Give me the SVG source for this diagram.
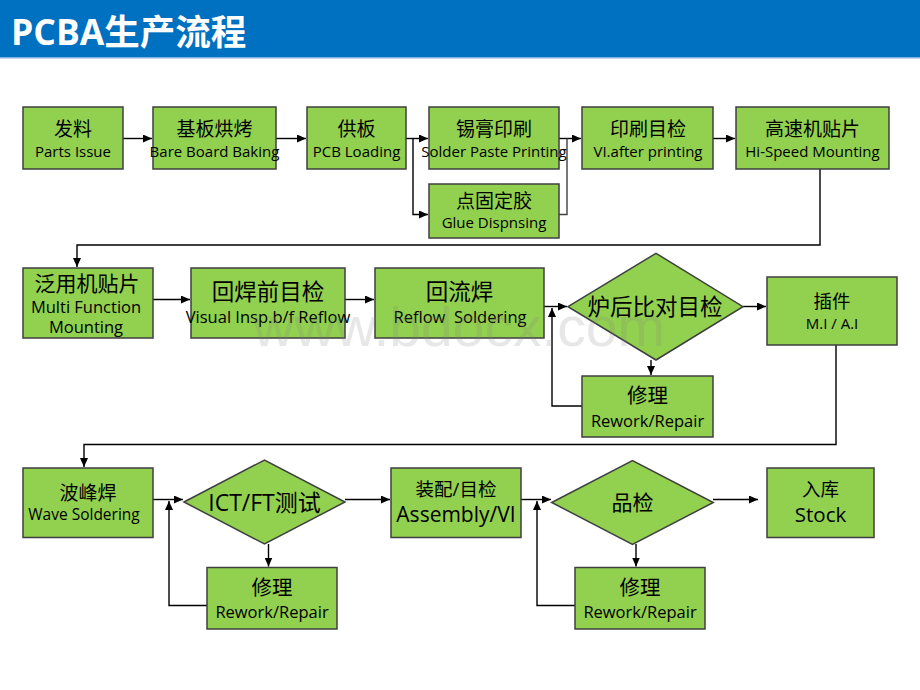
<svg xmlns="http://www.w3.org/2000/svg" width="920" height="690" viewBox="0 0 920 690">
<defs>
<marker id="arr" markerUnits="userSpaceOnUse" markerWidth="10" markerHeight="8" refX="9" refY="4" orient="auto">
<path d="M0,0 L9,4 L0,8 z" fill="#000"/>
</marker>
<style>
.box{fill:#92D050;stroke:#3F3F3F;stroke-width:1.5}
.zh{font-family:"Open Sans","Noto Sans CJK SC",sans-serif;fill:#000;text-anchor:middle}
.en{font-family:"Open Sans","Noto Sans CJK SC",sans-serif;fill:#000;text-anchor:middle}
.ln{fill:none;stroke:#404040;stroke-width:1.4}
.ar{fill:none;stroke:#000;stroke-width:1.4;marker-end:url(#arr)}
</style>
</defs>
<rect x="0" y="0" width="920" height="690" fill="#fff"/>
<rect x="0" y="0" width="920" height="57" fill="#0070C0"/>
<rect x="0" y="57" width="920" height="1.5" fill="#7FB2E0"/>
<text x="11" y="45" style="font-family:'Open Sans','Noto Sans CJK SC',sans-serif;font-weight:bold;font-size:35.5px;fill:#fff">PCBA生产流程</text>

<g id="connectors">
<path class="ar" d="M123,138.5 H152"/>
<path class="ar" d="M276,138.5 H306"/>
<path class="ar" d="M406,138.5 H428"/>
<path class="ar" d="M413,138.5 V214.5 H428"/>
<path class="ar" d="M559,138.5 H581"/>
<path class="ln" d="M559,214.5 H567 V138.5"/>
<path class="ar" d="M713,138.5 H735"/>
<path class="ar" d="M820,169 V245 H77 V267"/>
<path class="ar" d="M153,299.5 H190"/>
<path class="ar" d="M345,299.5 H374"/>
<path class="ar" d="M544,306.5 H567"/>
<path class="ar" d="M582,406 H552 V308"/>
<path class="ar" d="M651,360 V375"/>
<path class="ar" d="M743,306.5 H766"/>
<path class="ar" d="M836,345 V444.5 H84 V467"/>
<path class="ar" d="M153,499.5 H183"/>
<path class="ar" d="M207,605.5 H169 V501"/>
<path class="ar" d="M268.5,544 V566.5"/>
<path class="ar" d="M345,499.5 H390"/>
<path class="ar" d="M521,499.5 H551"/>
<path class="ar" d="M575,605.5 H537 V501"/>
<path class="ar" d="M636,544 V566.5"/>
<path class="ar" d="M713,499.5 H758"/>
</g>

<g id="n1"><rect class="box" x="23" y="107" width="100" height="62"/><text class="zh" x="73" y="136" font-size="19">发料</text><text class="en" x="73" y="157" font-size="15">Parts Issue</text></g>
<g id="n2"><rect class="box" x="153" y="107" width="123" height="62"/><text class="zh" x="214.5" y="136" font-size="19">基板烘烤</text><text class="en" x="214.5" y="157" font-size="15">Bare Board Baking</text></g>
<g id="n3"><rect class="box" x="307" y="107" width="99" height="62"/><text class="zh" x="356.5" y="136" font-size="19">供板</text><text class="en" x="356.5" y="157" font-size="15">PCB Loading</text></g>
<g id="n4"><rect class="box" x="429" y="107" width="130" height="62"/><text class="zh" x="494" y="136" font-size="19">锡膏印刷</text><text class="en" x="494" y="157" font-size="15">Solder Paste Printing</text></g>
<g id="n5"><rect class="box" x="429" y="184" width="130" height="54"/><text class="zh" x="494" y="208" font-size="19">点固定胶</text><text class="en" x="494" y="228" font-size="15">Glue Dispnsing</text></g>
<g id="n6"><rect class="box" x="582" y="107" width="131" height="62"/><text class="zh" x="648" y="136" font-size="19">印刷目检</text><text class="en" x="648" y="157" font-size="15">VI.after printing</text></g>
<g id="n7"><rect class="box" x="736" y="107" width="153" height="62"/><text class="zh" x="812.5" y="136" font-size="19">高速机贴片</text><text class="en" x="812.5" y="157" font-size="15">Hi-Speed Mounting</text></g>

<g id="n8"><rect class="box" x="23" y="268" width="130" height="70"/><text class="zh" x="87" y="291" font-size="21">泛用机贴片</text><text class="en" x="86" y="313" font-size="16.5">Multi Function</text><text class="en" x="86" y="333" font-size="16.5">Mounting</text></g>
<g id="n9"><rect class="box" x="191" y="268" width="154" height="70"/><text class="zh" x="268" y="299.5" font-size="22.5">回焊前目检</text><text class="en" x="268" y="323" font-size="16.5">Visual Insp.b/f Reflow</text></g>
<g id="n10"><rect class="box" x="375" y="268" width="169" height="70"/><text class="zh" x="459.5" y="299.5" font-size="22.5">回流焊</text><text class="en" x="460" y="323" font-size="16.5" xml:space="preserve">Reflow  Soldering</text></g>
<g id="n11"><polygon class="box" points="568,306.7 656,253.3 743,306.7 656,360"/><text class="zh" x="655" y="315" font-size="22.5">炉后比对目检</text></g>
<g id="n12"><rect class="box" x="767" y="277" width="130" height="68"/><text class="zh" x="832" y="308" font-size="18.5">插件</text><text class="en" x="832" y="329" font-size="15">M.I / A.I</text></g>
<g id="n13"><rect class="box" x="582" y="376" width="131" height="61"/><text class="zh" x="647.5" y="403" font-size="20.5">修理</text><text class="en" x="647.5" y="426.5" font-size="16.5">Rework/Repair</text></g>

<g id="n14"><rect class="box" x="23" y="468" width="130" height="69.5"/><text class="zh" x="88" y="500" font-size="19">波峰焊</text><text class="en" x="84" y="520" font-size="15.5">Wave Soldering</text></g>
<g id="n15"><polygon class="box" points="184,502 264.5,460 345,502 264.5,544"/><text class="zh" x="264.5" y="510.5" font-size="23">ICT/FT测试</text></g>
<g id="n16"><rect class="box" x="207" y="567.5" width="130" height="61.5"/><text class="zh" x="272" y="595" font-size="20.5">修理</text><text class="en" x="272" y="618" font-size="16.5">Rework/Repair</text></g>
<g id="n17"><rect class="box" x="391" y="468" width="130" height="69.5"/><text class="zh" x="456" y="496" font-size="18.5">装配/目检</text><text class="en" x="456" y="521.5" font-size="21">Assembly/VI</text></g>
<g id="n18"><polygon class="box" points="551.7,502.5 632.5,460.7 713.3,502.5 632.5,544.3"/><text class="zh" x="632.5" y="509.5" font-size="21">品检</text></g>
<g id="n19"><rect class="box" x="575" y="567.5" width="130" height="61.5"/><text class="zh" x="640" y="595" font-size="20.5">修理</text><text class="en" x="640" y="618" font-size="16.5">Rework/Repair</text></g>
<g id="n20"><rect class="box" x="767" y="468" width="107" height="69.5"/><text class="zh" x="820.5" y="496" font-size="18.5">入库</text><text class="en" x="820.5" y="521.5" font-size="20.5">Stock</text></g>

<text x="253" y="346" textLength="412" lengthAdjust="spacingAndGlyphs" style="font-family:'Liberation Sans',sans-serif;font-size:56px;fill:#808080;opacity:0.18">www.bdocx.com</text>
</svg>
